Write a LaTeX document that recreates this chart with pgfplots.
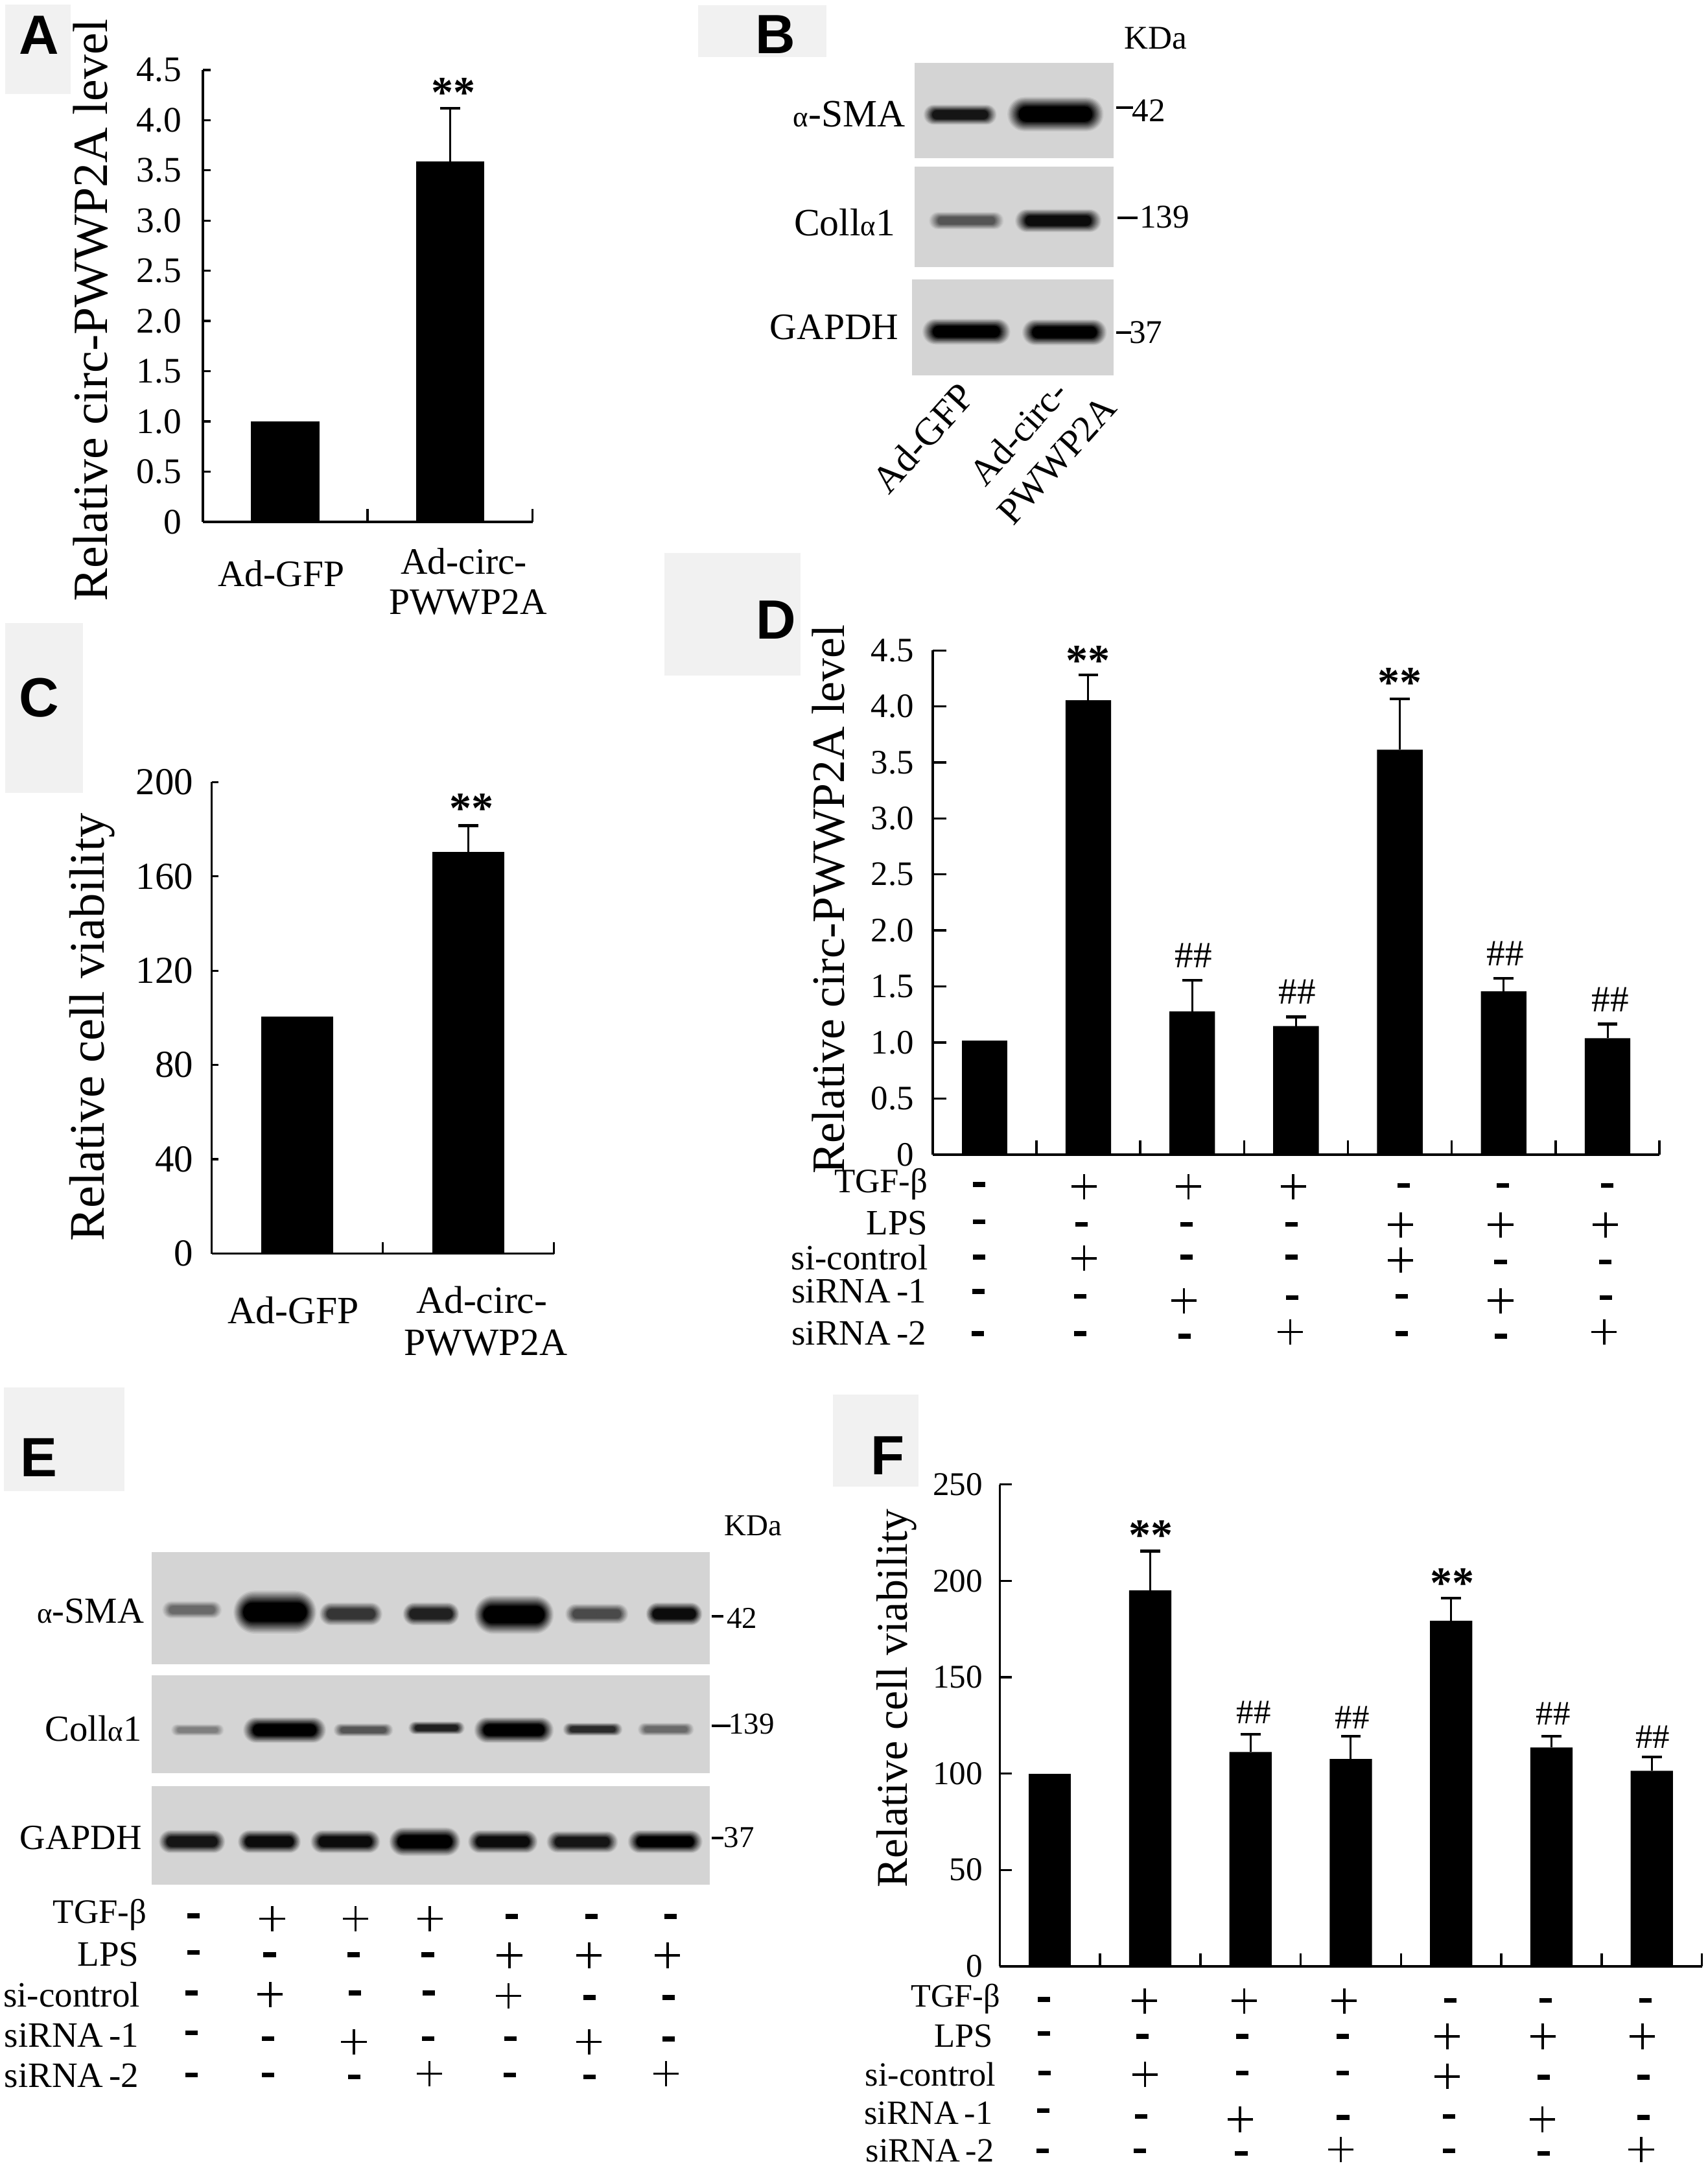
\documentclass[border=0pt]{standalone}
\usepackage{fontspec}
\usepackage{pgfplots}
\usepackage{pgfplotstable}
\pgfplotsset{compat=1.18}
\setmainfont{Liberation Serif}
\newfontfamily\lett{Liberation Sans}
\definecolor{blotbg}{gray}{0.83}
\definecolor{boxbg}{gray}{0.945}

% bars with an error bar: x y e (the control bars have none)
\pgfplotstableread{
x y e
1 3.59 0.53
}\dataA
\pgfplotstableread{
x y e
1 170.3 11.2
}\dataC
\pgfplotstableread{
x y e
1 4.055 0.228
2 1.277 0.277
3 1.147 0.081
4 3.613 0.456
5 1.456 0.115
6 1.038 0.127
}\dataD
\pgfplotstableread{
x y e
1 195 20.4
2 111.2 9.2
3 107.6 11.8
4 179.3 11.7
5 113.5 5.9
6 101.4 7.2
}\dataF

% western blot bands, in picture pixels: x y width height darkness
\pgfplotstableread{
x y w h k
695 83 44 7 90
764 82.6 58 12 100
699.5 159.7 45 6 60
766 159.7 52 8 95
699.5 240 53 9 100
770.5 240.5 51 9 100
139 1165 36 6 50
199 1166.7 50 15 100
254 1168 38 8 75
312 1168 34 8 85
372 1168.5 48 13.5 100
432 1168 38 7 65
488 1168 34 8 95
143 1252 32 4 40
206 1252 50 9 100
263 1252 36 4.5 60
316 1250.5 34 4.5 85
372 1252 48 9 100
429 1251.5 36 4.5 80
482 1251.5 34 4.5 50
139 1332.8 40 8 90
195 1332.8 38 8 95
250 1332.8 42 8 95
307.5 1332.8 43 10 100
364 1332.8 42 8 95
421.5 1333 43 7.5 90
481.5 1332.8 45 8 100
}\bandsTable

% treatment grid
\pgfplotstableread{
x y
784.7 858.7
860.2 858.7
936.1 858.7
1013.8 886.4
1086.2 886.4
1162.1 886.4
784.7 910.6
1013.8 912
857 941.3
1086.2 941.3
933.9 964
1161.2 964
197.1 1388.5
257.3 1388.5
311.2 1388.5
368.8 1415.1
426.4 1415.1
483.2 1415.1
195.6 1443.3
368 1444.4
256.2 1477.7
426.4 1477.7
310.8 1500.7
482.1 1500.7
828.5 1448
900.6 1448
973 1448
1047.6 1473.7
1116.8 1473.7
1188.8 1473.7
828.9 1501.3
1047.6 1502.7
897.7 1533.8
1116.4 1533.8
970.6 1555.6
1188 1555.6
}\plusTable
\pgfplotstableread{
x y
708.8 857.1
1016 857.9
1088 857.9
1163.4 857.9
708.8 884.2
782.9 886.1
858.8 886.1
934.8 886.1
708.8 909.8
858.8 909.8
934.8 909.8
1086.2 913.3
1162.1 913.3
708.3 934.7
782 938.1
935.2 939.1
1014.7 938.1
1162.5 939.1
707.9 965.2
782 965.2
857.5 966.9
1014.7 965.2
1086.6 966.9
139.9 1386.4
370.3 1387
428.2 1387
485.5 1387
139.9 1413
195.2 1414.5
255.8 1414.5
309.7 1414.5
138.8 1442.4
256.9 1442.4
310.4 1442.4
426.7 1445.6
484 1445.6
138.8 1471.1
194.1 1475.3
310 1475.3
369.5 1475.3
484 1475.6
138.8 1501.6
194.1 1501.6
256.6 1503.1
369.1 1501.6
426.7 1503.1
755.6 1447
1049.7 1447.7
1118.8 1447.7
1190.9 1447.7
755.6 1471.6
826.8 1473.7
899.3 1473.7
971.8 1473.7
756 1500.2
899.3 1500.2
971.8 1500.2
1117.2 1503.4
1189.7 1503.4
755.2 1527.4
826 1531.6
972.2 1532.3
1048.8 1531.6
1189.7 1532.3
754.8 1556.6
825.2 1556.6
898.5 1558.4
1048.8 1556.6
1117.2 1558.4
}\minusTable

\pgfdeclareplotmark{pls}{%
  \pgfsetlinewidth{0.85pt}\pgfsetbuttcap
  \pgfpathmoveto{\pgfqpoint{-4.6pt}{0pt}}\pgfpathlineto{\pgfqpoint{4.6pt}{0pt}}
  \pgfpathmoveto{\pgfqpoint{0pt}{-4.6pt}}\pgfpathlineto{\pgfqpoint{0pt}{4.6pt}}
  \pgfusepathqstroke}
\pgfdeclareplotmark{mns}{%
  \pgfpathrectangle{\pgfqpoint{-2.25pt}{-0.9pt}}{\pgfqpoint{4.5pt}{1.8pt}}
  \pgfusepathqfill}

\pgfplotsset{
  panel/.style={
    scale only axis, axis x line=bottom, axis y line=left,
    axis line style={-,line width=0.9pt},
    tick style={black,line width=0.8pt},
    tick align=inside,
    xtick={-9},xticklabels={},
    yticklabel style={inner sep=0pt},
    clip=false,
  },
  bars/.style={ybar, bar shift=0pt, bar width=#1, fill=black, draw=none},
  errs/.style={
    error bars/.cd, y dir=plus, y explicit,
    error bar style={line width=0.7pt,black},
    error mark options={rotate=90,line width=1pt,mark size=3.6pt,black},
  },
  rect/.style={fill=#1,draw=none},
  % each band is a stack of pills going darker inward, which gives the soft edge
  bands/.style={
    only marks, scatter, mark=*, mark size=0pt,
    visualization depends on={\thisrow{w}\as\bw},
    visualization depends on={\thisrow{h}\as\bh},
    visualization depends on={\thisrow{k}\as\bk},
    scatter/@pre marker code/.code={\begin{scope}
      \foreach \f in {0,0.125,...,1}{
        \pgfmathsetlengthmacro\rx{\bw*(0.30-0.07*\f)}
        \pgfmathsetlengthmacro\ry{\bh*(0.52-0.29*\f)}
        \pgfmathsetmacro\pc{\bk*(0.08+0.92*\f)}
        \fill[black!\pc!blotbg,draw=none,rounded corners=\ry]
          (-\rx,-\ry) rectangle (\rx,\ry);
      }},
    scatter/@post marker code/.code={\end{scope}},
  },
}
% text in picture pixels
\newcommand\lab[4][center]{\node[anchor=#1,inner sep=0pt,font=\fontsize{#2}{#2}\selectfont] at (#3) {#4};}
\newcommand\letr[2]{\node[inner sep=0pt,font=\lett\bfseries\fontsize{20}{20}\selectfont] at (#1) {#2};}
\newcommand\smalpha{{\fontsize{10.5}{10.5}\selectfont α}}

\begin{document}
\begin{tikzpicture}[x=0.5pt,y=-0.5pt]
\path (0,0) rectangle (1236,1569);

% overlay axis in picture pixels: boxes behind the panel letters, blots, sign grid
\begin{axis}[at={(309pt,-392.25pt)},anchor=center,scale only axis,width=618pt,height=784.5pt,
  xmin=0,xmax=1236,ymin=0,ymax=1569,y dir=reverse,hide axis,clip=false]
\addplot[rect=boxbg] coordinates {(3.6,3.4)(51,3.4)(51,68)(3.6,68)} -- cycle;
\addplot[rect=boxbg] coordinates {(505.4,3.6)(598.3,3.6)(598.3,41.2)(505.4,41.2)} -- cycle;
\addplot[rect=boxbg] coordinates {(3.6,451)(60,451)(60,573.6)(3.6,573.6)} -- cycle;
\addplot[rect=boxbg] coordinates {(481,400)(579.6,400)(579.6,489)(481,489)} -- cycle;
\addplot[rect=boxbg] coordinates {(3,1004)(90,1004)(90,1079)(3,1079)} -- cycle;
\addplot[rect=boxbg] coordinates {(603,1009)(665,1009)(665,1076)(603,1076)} -- cycle;
\addplot[rect=blotbg] coordinates {(662,45.5)(806,45.5)(806,114.5)(662,114.5)} -- cycle;
\addplot[rect=blotbg] coordinates {(662,120.7)(806,120.7)(806,193.4)(662,193.4)} -- cycle;
\addplot[rect=blotbg] coordinates {(660,202)(806,202)(806,271.5)(660,271.5)} -- cycle;
\addplot[rect=blotbg] coordinates {(109.6,1123)(514,1123)(514,1204.4)(109.6,1204.4)} -- cycle;
\addplot[rect=blotbg] coordinates {(109.6,1212.5)(514,1212.5)(514,1283.4)(109.6,1283.4)} -- cycle;
\addplot[rect=blotbg] coordinates {(109.6,1292.4)(514,1292.4)(514,1364)(109.6,1364)} -- cycle;
\addplot[bands] table {\bandsTable};
\addplot[only marks,mark=pls,black] table {\plusTable};
\addplot[only marks,mark=mns,black] table {\minusTable};
\end{axis}

% A
\begin{axis}[panel,at={(73.35pt,-188.85pt)},anchor=south west,width=119.4pt,height=163.55pt,
  xmin=-0.5,xmax=1.5,ymin=0,ymax=4.5,ytick={0,0.5,...,4.5},
  yticklabels={0,0.5,1.0,1.5,2.0,2.5,3.0,3.5,4.0,4.5},
  minor xtick={-0.5,0.5,1.5},minor tick length=4.7pt,major tick length=3pt,
  tick label style={font=\fontsize{13}{13}\selectfont},
  yticklabel style={xshift=-7.5pt},
  every axis y label/.style={at={(axis description cs:-0.339,0.468)},rotate=90,anchor=center,
    font=\fontsize{17.8}{18}\selectfont},
  ylabel={Relative circ-PWWP2A level}]
\addplot[bars=24.75pt] coordinates {(0,1.0)};
\addplot[bars=24.75pt,errs] table[x=x,y=y,y error=e] {\dataA};
\end{axis}

% C
\begin{axis}[panel,at={(76.6pt,-453.6pt)},anchor=south west,width=123.9pt,height=170.6pt,
  xmin=-0.5,xmax=1.5,ymin=0,ymax=200,ytick={0,40,...,200},
  yticklabels={0,40,80,120,160,200},
  minor xtick={-0.5,0.5,1.5},minor tick length=4pt,major tick length=2.4pt,
  tick label style={font=\fontsize{13.8}{14}\selectfont},
  yticklabel style={xshift=-6.5pt},
  every axis y label/.style={at={(axis description cs:-0.35,0.48)},rotate=90,anchor=center,
    font=\fontsize{18}{18}\selectfont},
  ylabel={Relative cell viability}]
\addplot[bars=26pt] coordinates {(0,100.4)};
\addplot[bars=26pt,errs] table[x=x,y=y,y error=e] {\dataC};
\end{axis}

% D
\begin{axis}[panel,at={(337.5pt,-417.75pt)},anchor=south west,width=263.1pt,height=182.4pt,
  xmin=-0.5,xmax=6.5,ymin=0,ymax=4.5,ytick={0,0.5,...,4.5},
  yticklabels={0,0.5,1.0,1.5,2.0,2.5,3.0,3.5,4.0,4.5},
  minor xtick={-0.5,0.5,...,6.5},minor tick length=5pt,major tick length=4.9pt,
  tick label style={font=\fontsize{12.4}{13}\selectfont},
  yticklabel style={xshift=-6.6pt},
  every axis y label/.style={at={(axis description cs:-0.1434,0.506)},rotate=90,anchor=center,
    font=\fontsize{16.8}{17}\selectfont},
  ylabel={Relative circ-PWWP2A level}]
\addplot[bars=16.5pt] coordinates {(0,1.017)};
\addplot[bars=16.5pt,errs] table[x=x,y=y,y error=e] {\dataD};
\end{axis}

% F
\begin{axis}[panel,at={(361.85pt,-711.5pt)},anchor=south west,width=254.1pt,height=174.35pt,
  xmin=-0.5,xmax=6.5,ymin=0,ymax=250,ytick={0,50,...,250},
  yticklabels={0,50,100,150,200,250},
  minor xtick={-0.5,0.5,...,6.5},minor tick length=4.6pt,major tick length=4.3pt,
  tick label style={font=\fontsize{12}{12}\selectfont},
  yticklabel style={xshift=-6pt},
  every axis y label/.style={at={(axis description cs:-0.147,0.556)},rotate=90,anchor=center,
    font=\fontsize{15.9}{16}\selectfont},
  ylabel={Relative cell viability}]
\addplot[bars=15.3pt] coordinates {(0,100)};
\addplot[bars=15.3pt,errs] table[x=x,y=y,y error=e] {\dataF};
\end{axis}

% panel letters
\letr{28.4,25.6}{A}
\letr{561.4,25}{B}
\letr{28.4,505}{C}
\letr{561.8,448.5}{D}
\letr{28,1055}{E}
\letr{642.5,1053.6}{F}

% significance marks
\lab{16}{328.3,67}{\textbf{**}}
\lab{16}{341.2,585}{\textbf{**}}
\lab{16}{787.4,478}{\textbf{**}}
\lab{16}{1013.3,494}{\textbf{**}}
\lab{16}{833,1111}{\textbf{**}}
\lab{16}{1051.3,1146}{\textbf{**}}
\lab{13.4}{864,691.6}{\#\#}
\lab{13.4}{939,717.8}{\#\#}
\lab{13.4}{1089.7,690}{\#\#}
\lab{13.4}{1165.6,723.5}{\#\#}
\lab{12.4}{907.6,1239.4}{\#\#}
\lab{12.4}{978.8,1243}{\#\#}
\lab{12.4}{1124.2,1240.4}{\#\#}
\lab{12.4}{1196.3,1257.2}{\#\#}

% A, C category names
\lab{13.5}{203.5,415}{Ad-GFP}
\lab{13.5}{335.8,406}{Ad-circ-}
\lab{13.5}{338.8,436}{PWWP2A}
\lab{14}{212.5,948.5}{Ad-GFP}
\lab{14}{348.7,940.6}{Ad-circ-}
\lab{14}{351.7,971.9}{PWWP2A}

% B
\lab{12}{836.7,27.5}{KDa}
\lab[east]{14}{655.7,82.6}{\smalpha-SMA}
\lab[east]{14}{648.4,160.9}{Coll\smalpha 1}
\lab[east]{13.5}{650.8,237}{GAPDH}
\draw[line width=1pt] (808,77.8)--(820,77.8) (809,157.5)--(823.5,157.5) (808,240.6)--(818.7,240.6);
\lab{12}{831.6,80}{42}
\lab{12}{843,157}{139}
\lab{12}{829.5,240.6}{37}
\node[rotate=48,inner sep=0pt,font=\fontsize{14}{14}\selectfont] at (668,317) {Ad-GFP};
\node[rotate=48,inner sep=0pt,font=\fontsize{13.5}{14}\selectfont] at (737,313) {Ad-circ-};
\node[rotate=48,inner sep=0pt,font=\fontsize{13.5}{14}\selectfont] at (765,333) {PWWP2A};

% D row names
\lab[east]{12.4}{672,857}{TGF-β}
\lab[east]{12.9}{672,885}{LPS}
\lab[east]{12.9}{672,910}{si-control}
\lab[east]{12.9}{671,934.5}{siRNA\,-1}
\lab[east]{12.9}{671,965}{siRNA\,-2}

% E
\lab{11}{545,1104}{KDa}
\lab[east]{13.3}{104.7,1166}{\smalpha-SMA}
\lab[east]{13.3}{103,1251}{Coll\smalpha 1}
\lab[east]{12.8}{103,1330}{GAPDH}
\draw[line width=1pt] (515,1169.7)--(523.6,1169.7) (515,1249)--(529,1249) (515,1330)--(523.6,1330);
\lab{11}{537,1171}{42}
\lab{11}{544,1247.5}{139}
\lab{11}{535,1330}{37}
\lab[east]{12.4}{106.6,1386}{TGF-β}
\lab[east]{12.9}{101,1414.5}{LPS}
\lab[east]{12.9}{101.7,1443.5}{si-control}
\lab[east]{12.9}{101,1473}{siRNA\,-1}
\lab[east]{12.9}{101,1502}{siRNA\,-2}

% F row names
\lab[east]{11.8}{724.5,1446.6}{TGF-β}
\lab[east]{12.3}{719,1473.4}{LPS}
\lab[east]{12.3}{721,1501.3}{si-control}
\lab[east]{12.3}{719,1529.5}{siRNA\,-1}
\lab[east]{12.3}{720,1556.6}{siRNA\,-2}
\end{tikzpicture}
\end{document}
